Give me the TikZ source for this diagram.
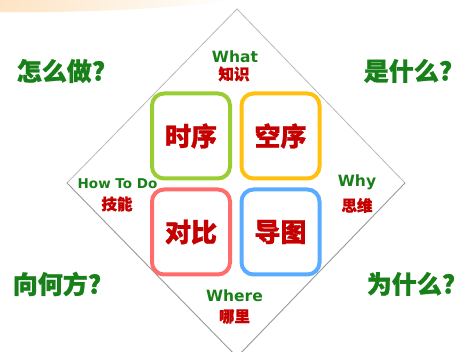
\documentclass[tikz,border=0pt]{standalone}
\usepackage{fontspec}
\setmainfont{DejaVu Sans}
\newfontfamily\cjk{Noto Sans CJK SC}[BoldFeatures={FakeBold=1}]
\definecolor{qgreen}{RGB}{24,128,24}
\definecolor{qred}{RGB}{196,0,0}
\definecolor{bgreen}{RGB}{154,205,50}
\definecolor{borange}{RGB}{255,192,16}
\definecolor{bred}{RGB}{255,108,108}
\definecolor{bblue}{RGB}{90,172,255}
\definecolor{peach}{RGB}{253,228,196}
\tikzset{
  quad/.style={draw=#1, line width=4pt, rounded corners=12pt, fill=white,
    minimum width=78pt, minimum height=85pt, inner sep=0pt,
    text=qred, font=\fontsize{26}{26}\cjk\bfseries},
  corner/.style={text=qgreen, font=\fontsize{25}{25}\cjk\bfseries, inner sep=0pt},
  en/.style={text=qgreen, font=\fontsize{15.5}{15.5}\bfseries, inner sep=0pt, text depth=0pt},
  zh/.style={text=qred, font=\fontsize{15.5}{15.5}\cjk\bfseries, inner sep=0pt},
  edgeup/.style={draw=gray!55, line width=0.8pt},
  edgedn/.style={draw=gray!80, line width=0.9pt}
}
\begin{document}
\begin{tikzpicture}[x=1pt,y=-1pt]
\useasboundingbox (0,0) rectangle (467,352);
\clip (0,0) rectangle (467,352);
\fill[white] (0,0) rectangle (467,352);
% faint banner at top
\shade[left color=peach, right color=white] (0,0) -- (235,0) .. controls (170,9) and (80,13) .. (0,12) -- cycle;
% diamond
\coordinate (T) at (237,9);
\coordinate (L) at (67,183);
\coordinate (R) at (405,183);
\coordinate (B) at (237,357);
\draw[edgeup] (L) -- (T) -- (R);
\draw[edgedn] (L) -- (B) -- (R);
% quadrant boxes
\node[quad=bgreen] (q1) at (191,136) {时序};
\node[quad=borange] (q2) at (280.5,136) {空序};
\node[quad=bred] (q3) at (191,232) {对比};
\node[quad=bblue] (q4) at (280.5,232) {导图};
% labels
\node[en] (what) at (235,57) {What};
\node[zh] (whatz) at (234,74) {知识};
\node[en, font=\fontsize{13.5}{13.5}\bfseries] (how) at (117.5,183.5) {How To Do};
\node[zh] (howz) at (117,204) {技能};
\node[en, text depth=] (why) at (357,182) {Why};
\node[zh] (whyz) at (357,205.5) {思维};
\node[en] (where) at (234.5,296) {Where};
\node[zh] (wherez) at (234.5,316.5) {哪里};
% corner questions
\node[corner] (c1) at (61,71) {怎么做?};
\node[corner] (c2) at (408,71) {是什么?};
\node[corner] (c3) at (57,284) {向何方?};
\node[corner] (c4) at (411,284) {为什么?};
\end{tikzpicture}
\end{document}
